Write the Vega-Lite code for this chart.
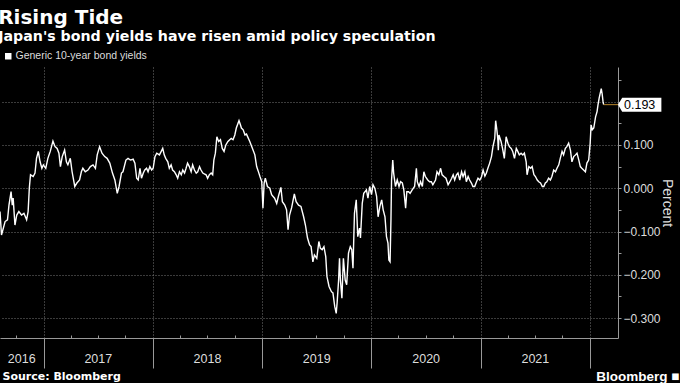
{
"$schema": "https://vega.github.io/schema/vega-lite/v6.json",
"width": 618, "height": 271,
"autosize": {"type": "none"},
"padding": {"left": 0, "top": 67, "right": 62, "bottom": 45},
"background": "#000000",
"config": {"view": {"stroke": null}, "font": "Liberation Sans"},
"title": {"text": "Rising Tide", "subtitle": "Japan's bond yields have risen amid policy speculation", "anchor": "start", "orient": "top", "offset": 7, "fontSize": 20, "fontWeight": "bold", "color": "#ffffff", "subtitleFontSize": 14.2, "subtitleFontWeight": "bold", "subtitleColor": "#ffffff", "subtitlePadding": 2, "font": "DejaVu Sans", "subtitleFont": "DejaVu Sans", "dx": 1},
"resolve": {"axis": {"x": "independent"}},
"datasets": {
"yields": [
{"date":"2016-08-08","value":-0.054},{"date":"2016-08-13","value":-0.108},{"date":"2016-08-25","value":-0.077},{"date":"2016-09-02","value":-0.073},{"date":"2016-09-07","value":-0.039},{"date":"2016-09-14","value":-0.008},{"date":"2016-09-18","value":-0.039},{"date":"2016-09-21","value":-0.023},{"date":"2016-09-27","value":-0.085},{"date":"2016-10-03","value":-0.062},{"date":"2016-10-10","value":-0.054},{"date":"2016-10-19","value":-0.062},{"date":"2016-10-27","value":-0.058},{"date":"2016-11-05","value":-0.073},{"date":"2016-11-10","value":-0.054},{"date":"2016-11-14","value":0.000},{"date":"2016-11-18","value":0.031},{"date":"2016-11-27","value":0.027},{"date":"2016-12-03","value":0.035},{"date":"2016-12-08","value":0.069},{"date":"2016-12-14","value":0.085},{"date":"2016-12-20","value":0.061},{"date":"2016-12-26","value":0.046},{"date":"2016-12-31","value":0.054},
{"date":"2017-01-08","value":0.046},{"date":"2017-01-15","value":0.069},{"date":"2017-01-23","value":0.085},{"date":"2017-02-01","value":0.109},{"date":"2017-02-08","value":0.096},{"date":"2017-02-15","value":0.092},{"date":"2017-02-21","value":0.081},{"date":"2017-02-26","value":0.050},{"date":"2017-03-04","value":0.073},{"date":"2017-03-12","value":0.088},{"date":"2017-03-18","value":0.061},{"date":"2017-03-23","value":0.054},{"date":"2017-03-31","value":0.069},{"date":"2017-04-06","value":0.038},{"date":"2017-04-15","value":0.004},{"date":"2017-04-22","value":0.012},{"date":"2017-05-01","value":0.019},{"date":"2017-05-07","value":0.038},{"date":"2017-05-12","value":0.046},{"date":"2017-05-20","value":0.038},{"date":"2017-05-29","value":0.042},{"date":"2017-06-06","value":0.050},{"date":"2017-06-15","value":0.054},{"date":"2017-06-23","value":0.046},{"date":"2017-06-29","value":0.077},{"date":"2017-07-07","value":0.096},{"date":"2017-07-15","value":0.081},{"date":"2017-07-24","value":0.073},{"date":"2017-08-01","value":0.069},{"date":"2017-08-10","value":0.058},{"date":"2017-08-19","value":0.035},{"date":"2017-08-27","value":0.019},{"date":"2017-09-04","value":-0.012},{"date":"2017-09-10","value":0.004},{"date":"2017-09-18","value":0.035},{"date":"2017-09-23","value":0.038},{"date":"2017-10-03","value":0.065},{"date":"2017-10-10","value":0.069},{"date":"2017-10-18","value":0.065},{"date":"2017-10-27","value":0.067},{"date":"2017-11-02","value":0.058},{"date":"2017-11-08","value":0.023},{"date":"2017-11-13","value":0.019},{"date":"2017-11-19","value":0.046},{"date":"2017-11-24","value":0.023},{"date":"2017-11-30","value":0.035},{"date":"2017-12-05","value":0.042},{"date":"2017-12-11","value":0.046},{"date":"2017-12-16","value":0.038},{"date":"2017-12-22","value":0.050},{"date":"2017-12-28","value":0.042},
{"date":"2018-01-02","value":0.046},{"date":"2018-01-08","value":0.073},{"date":"2018-01-14","value":0.081},{"date":"2018-01-23","value":0.077},{"date":"2018-01-29","value":0.085},{"date":"2018-02-03","value":0.092},{"date":"2018-02-08","value":0.077},{"date":"2018-02-13","value":0.069},{"date":"2018-02-20","value":0.061},{"date":"2018-02-25","value":0.046},{"date":"2018-03-03","value":0.054},{"date":"2018-03-08","value":0.042},{"date":"2018-03-14","value":0.038},{"date":"2018-03-20","value":0.031},{"date":"2018-03-25","value":0.023},{"date":"2018-03-31","value":0.038},{"date":"2018-04-06","value":0.031},{"date":"2018-04-11","value":0.042},{"date":"2018-04-17","value":0.035},{"date":"2018-04-22","value":0.046},{"date":"2018-04-27","value":0.058},{"date":"2018-05-03","value":0.050},{"date":"2018-05-09","value":0.038},{"date":"2018-05-14","value":0.054},{"date":"2018-05-20","value":0.042},{"date":"2018-05-26","value":0.035},{"date":"2018-05-31","value":0.038},{"date":"2018-06-06","value":0.050},{"date":"2018-06-11","value":0.042},{"date":"2018-06-17","value":0.035},{"date":"2018-06-22","value":0.033},{"date":"2018-06-28","value":0.031},{"date":"2018-07-03","value":0.023},{"date":"2018-07-09","value":0.031},{"date":"2018-07-15","value":0.035},{"date":"2018-07-20","value":0.031},{"date":"2018-07-24","value":0.065},{"date":"2018-07-29","value":0.081},{"date":"2018-08-03","value":0.119},{"date":"2018-08-09","value":0.108},{"date":"2018-08-15","value":0.112},{"date":"2018-08-21","value":0.092},{"date":"2018-08-27","value":0.085},{"date":"2018-09-02","value":0.100},{"date":"2018-09-09","value":0.108},{"date":"2018-09-15","value":0.112},{"date":"2018-09-20","value":0.115},{"date":"2018-09-26","value":0.112},{"date":"2018-10-02","value":0.123},{"date":"2018-10-07","value":0.139},{"date":"2018-10-16","value":0.156},{"date":"2018-10-21","value":0.146},{"date":"2018-10-24","value":0.139},{"date":"2018-10-30","value":0.135},{"date":"2018-11-05","value":0.123},{"date":"2018-11-10","value":0.125},{"date":"2018-11-21","value":0.108},{"date":"2018-11-30","value":0.092},{"date":"2018-12-08","value":0.077},{"date":"2018-12-14","value":0.050},{"date":"2018-12-19","value":0.040},{"date":"2018-12-25","value":0.027},{"date":"2018-12-31","value":0.015},
{"date":"2019-01-04","value":-0.046},{"date":"2019-01-08","value":0.012},{"date":"2019-01-12","value":0.023},{"date":"2019-01-19","value":0.004},{"date":"2019-01-27","value":0.000},{"date":"2019-02-02","value":-0.015},{"date":"2019-02-07","value":-0.019},{"date":"2019-02-12","value":-0.023},{"date":"2019-02-19","value":-0.035},{"date":"2019-02-25","value":-0.018},{"date":"2019-03-05","value":0.002},{"date":"2019-03-10","value":-0.031},{"date":"2019-03-18","value":-0.039},{"date":"2019-03-24","value":-0.050},{"date":"2019-03-29","value":-0.096},{"date":"2019-04-03","value":-0.062},{"date":"2019-04-10","value":-0.045},{"date":"2019-04-19","value":-0.013},{"date":"2019-04-25","value":-0.031},{"date":"2019-05-03","value":-0.039},{"date":"2019-05-11","value":-0.042},{"date":"2019-05-20","value":-0.066},{"date":"2019-05-26","value":-0.085},{"date":"2019-06-02","value":-0.115},{"date":"2019-06-09","value":-0.131},{"date":"2019-06-14","value":-0.135},{"date":"2019-06-20","value":-0.170},{"date":"2019-06-25","value":-0.154},{"date":"2019-07-03","value":-0.162},{"date":"2019-07-10","value":-0.123},{"date":"2019-07-15","value":-0.139},{"date":"2019-07-21","value":-0.142},{"date":"2019-07-27","value":-0.135},{"date":"2019-08-02","value":-0.158},{"date":"2019-08-06","value":-0.204},{"date":"2019-08-13","value":-0.227},{"date":"2019-08-21","value":-0.239},{"date":"2019-08-26","value":-0.242},{"date":"2019-09-01","value":-0.273},{"date":"2019-09-06","value":-0.289},{"date":"2019-09-09","value":-0.265},{"date":"2019-09-14","value":-0.212},{"date":"2019-09-17","value":-0.162},{"date":"2019-09-20","value":-0.212},{"date":"2019-09-25","value":-0.254},{"date":"2019-09-30","value":-0.162},{"date":"2019-10-06","value":-0.212},{"date":"2019-10-11","value":-0.223},{"date":"2019-10-17","value":-0.150},{"date":"2019-10-23","value":-0.135},{"date":"2019-10-28","value":-0.142},{"date":"2019-11-01","value":-0.185},{"date":"2019-11-06","value":-0.058},{"date":"2019-11-12","value":-0.027},{"date":"2019-11-17","value":-0.112},{"date":"2019-11-23","value":-0.092},{"date":"2019-11-26","value":-0.115},{"date":"2019-12-02","value":-0.035},{"date":"2019-12-07","value":-0.012},{"date":"2019-12-16","value":-0.004},{"date":"2019-12-21","value":-0.023},{"date":"2019-12-27","value":0.004},
{"date":"2020-01-02","value":-0.015},{"date":"2020-01-07","value":0.008},{"date":"2020-01-13","value":0.000},{"date":"2020-01-19","value":-0.019},{"date":"2020-01-24","value":-0.066},{"date":"2020-01-30","value":-0.042},{"date":"2020-02-05","value":-0.027},{"date":"2020-02-10","value":-0.050},{"date":"2020-02-16","value":-0.066},{"date":"2020-02-21","value":-0.112},{"date":"2020-02-26","value":-0.127},{"date":"2020-02-29","value":-0.166},{"date":"2020-03-04","value":-0.170},{"date":"2020-03-07","value":-0.073},{"date":"2020-03-09","value":0.019},{"date":"2020-03-13","value":0.065},{"date":"2020-03-16","value":0.035},{"date":"2020-03-22","value":0.004},{"date":"2020-03-28","value":0.019},{"date":"2020-04-03","value":0.004},{"date":"2020-04-08","value":0.015},{"date":"2020-04-14","value":0.012},{"date":"2020-04-19","value":-0.004},{"date":"2020-04-25","value":-0.046},{"date":"2020-04-29","value":-0.008},{"date":"2020-05-05","value":-0.008},{"date":"2020-05-10","value":-0.012},{"date":"2020-05-17","value":-0.004},{"date":"2020-05-25","value":0.004},{"date":"2020-05-31","value":0.046},{"date":"2020-06-03","value":0.015},{"date":"2020-06-09","value":0.004},{"date":"2020-06-14","value":0.015},{"date":"2020-06-20","value":0.004},{"date":"2020-06-25","value":0.038},{"date":"2020-06-30","value":0.027},{"date":"2020-07-08","value":0.019},{"date":"2020-07-14","value":0.015},{"date":"2020-07-20","value":0.015},{"date":"2020-07-25","value":0.008},{"date":"2020-08-03","value":0.019},{"date":"2020-08-08","value":0.038},{"date":"2020-08-14","value":0.031},{"date":"2020-08-20","value":0.046},{"date":"2020-08-25","value":0.031},{"date":"2020-08-31","value":0.027},{"date":"2020-09-07","value":0.023},{"date":"2020-09-14","value":0.008},{"date":"2020-09-20","value":0.015},{"date":"2020-09-26","value":0.023},{"date":"2020-10-01","value":0.031},{"date":"2020-10-06","value":0.019},{"date":"2020-10-12","value":0.031},{"date":"2020-10-17","value":0.035},{"date":"2020-10-23","value":0.019},{"date":"2020-10-29","value":0.038},{"date":"2020-11-03","value":0.027},{"date":"2020-11-09","value":0.038},{"date":"2020-11-14","value":0.015},{"date":"2020-11-20","value":0.027},{"date":"2020-11-25","value":0.019},{"date":"2020-12-01","value":0.012},{"date":"2020-12-06","value":0.004},{"date":"2020-12-12","value":0.004},{"date":"2020-12-18","value":0.015},{"date":"2020-12-23","value":0.023},{"date":"2020-12-29","value":0.019},
{"date":"2021-01-04","value":0.027},{"date":"2021-01-09","value":0.042},{"date":"2021-01-15","value":0.028},{"date":"2021-01-20","value":0.035},{"date":"2021-01-25","value":0.046},{"date":"2021-01-31","value":0.058},{"date":"2021-02-06","value":0.073},{"date":"2021-02-11","value":0.096},{"date":"2021-02-17","value":0.115},{"date":"2021-02-20","value":0.156},{"date":"2021-02-24","value":0.135},{"date":"2021-02-27","value":0.115},{"date":"2021-03-01","value":0.088},{"date":"2021-03-03","value":0.123},{"date":"2021-03-10","value":0.108},{"date":"2021-03-15","value":0.092},{"date":"2021-03-21","value":0.069},{"date":"2021-03-27","value":0.119},{"date":"2021-04-02","value":0.104},{"date":"2021-04-07","value":0.096},{"date":"2021-04-13","value":0.092},{"date":"2021-04-18","value":0.085},{"date":"2021-04-24","value":0.069},{"date":"2021-04-30","value":0.092},{"date":"2021-05-05","value":0.085},{"date":"2021-05-10","value":0.077},{"date":"2021-05-16","value":0.081},{"date":"2021-05-22","value":0.077},{"date":"2021-05-27","value":0.081},{"date":"2021-06-02","value":0.061},{"date":"2021-06-05","value":0.031},{"date":"2021-06-11","value":0.050},{"date":"2021-06-17","value":0.046},{"date":"2021-06-22","value":0.050},{"date":"2021-06-28","value":0.031},{"date":"2021-07-03","value":0.027},{"date":"2021-07-09","value":0.019},{"date":"2021-07-14","value":0.015},{"date":"2021-07-20","value":0.012},{"date":"2021-07-26","value":0.004},{"date":"2021-07-31","value":0.004},{"date":"2021-08-05","value":0.012},{"date":"2021-08-10","value":0.015},{"date":"2021-08-16","value":0.023},{"date":"2021-08-22","value":0.019},{"date":"2021-08-27","value":0.027},{"date":"2021-09-02","value":0.042},{"date":"2021-09-08","value":0.038},{"date":"2021-09-13","value":0.046},{"date":"2021-09-19","value":0.054},{"date":"2021-09-24","value":0.069},{"date":"2021-09-30","value":0.085},{"date":"2021-10-05","value":0.077},{"date":"2021-10-11","value":0.092},{"date":"2021-10-16","value":0.096},{"date":"2021-10-22","value":0.104},{"date":"2021-10-28","value":0.088},{"date":"2021-11-02","value":0.061},{"date":"2021-11-08","value":0.073},{"date":"2021-11-14","value":0.077},{"date":"2021-11-19","value":0.081},{"date":"2021-11-25","value":0.065},{"date":"2021-11-30","value":0.050},{"date":"2021-12-05","value":0.046},{"date":"2021-12-11","value":0.042},{"date":"2021-12-17","value":0.038},{"date":"2021-12-22","value":0.058},{"date":"2021-12-28","value":0.065},
{"date":"2022-01-02","value":0.104},{"date":"2022-01-05","value":0.146},{"date":"2022-01-09","value":0.135},{"date":"2022-01-14","value":0.139},{"date":"2022-01-20","value":0.165},{"date":"2022-01-25","value":0.177},{"date":"2022-01-28","value":0.192},{"date":"2022-02-01","value":0.208},{"date":"2022-02-08","value":0.230},{"date":"2022-02-11","value":0.218},{"date":"2022-02-14","value":0.200},{"date":"2022-02-16","value":0.193}
],
"last": [{"date":"2022-02-16","value":0.193}]
},
"encoding": {
"y": {"field": "value", "type": "quantitative",
 "scale": {"domain": [-0.346, 0.28], "nice": false, "zero": false},
 "axis": {
  "orient": "right",
  "values": [-0.3,-0.25,-0.2,-0.15,-0.1,-0.05,0,0.05,0.1,0.15,0.2,0.25],
  "labelExpr": "datum.value > 0.15 || abs(datum.value*10 - round(datum.value*10)) > 0.01 ? '' : format(datum.value, '.3f')",
  "labelFontSize": 12, "labelColor": "#dddddd", "labelPadding": 2, "labelBaseline": "middle",
  "tickSize": 3, "tickColor": "#999999", "domainColor": "#999999",
  "grid": true, "gridColor": "#777777", "gridDash": [1, 2], "gridWidth": 1,
  "gridOpacity": {"condition": {"test": "abs(datum.value*10 - round(datum.value*10)) > 0.01", "value": 0}, "value": 1},
  "title": "Percent", "titleFontSize": 14, "titleFontWeight": "normal", "titleColor": "#dddddd", "titlePadding": -1, "titleAngle": 90
 }}
},
"layer": [
{
"data": {"name": "yields"},
"mark": {"type": "line", "color": "#ffffff", "strokeWidth": 1.4},
"encoding": {
"x": {"field": "date", "type": "temporal",
 "scale": {"domain": [{"year":2016,"month":8,"date":8},{"year":2022,"month":4,"date":5}]},
 "axis": {
  "values": [{"year":2016,"month":10,"date":1},{"year":2016,"month":10,"date":18},
   {"year":2017,"month":1,"date":1},{"year":2017,"month":4,"date":1},{"year":2017,"month":7,"date":1},{"year":2017,"month":10,"date":1},
   {"year":2018,"month":1,"date":1},{"year":2018,"month":4,"date":1},{"year":2018,"month":7,"date":1},{"year":2018,"month":10,"date":1},
   {"year":2019,"month":1,"date":1},{"year":2019,"month":4,"date":1},{"year":2019,"month":7,"date":1},{"year":2019,"month":10,"date":1},
   {"year":2020,"month":1,"date":1},{"year":2020,"month":4,"date":1},{"year":2020,"month":7,"date":1},{"year":2020,"month":10,"date":1},
   {"year":2021,"month":1,"date":1},{"year":2021,"month":4,"date":1},{"year":2021,"month":7,"date":1},{"year":2021,"month":10,"date":1},
   {"year":2022,"month":1,"date":1}],
  "labelExpr": "(month(datum.value)==6 && date(datum.value)==1) || date(datum.value)==18 ? timeFormat(datum.value, '%Y') : ''",
  "labelFontSize": 12.5, "labelColor": "#dddddd", "labelPadding": 17, "labelAlign": "center", "labelBaseline": "top", "labelFlush": false, "labelOverlap": false, "labelBound": false,
  "domainColor": "#999999", "domainWidth": 1,
  "tickColor": "#999999", "tickWidth": 1,
  "tickSize": {"condition": {"test": "month(datum.value)==0 && date(datum.value)==1", "value": 30}, "value": -3},
  "tickOpacity": {"condition": {"test": "date(datum.value)==18", "value": 0}, "value": 1},
  "grid": true, "gridColor": "#777777", "gridDash": [1, 2], "gridWidth": 1,
  "gridOpacity": {"condition": {"test": "month(datum.value)==0 && date(datum.value)==1", "value": 1}, "value": 0},
  "title": "Source: Bloomberg", "titleX": 2, "titleY": 41, "titleAlign": "left", "titleAnchor": "start", "titleBaseline": "alphabetic", "titleFontSize": 11, "titleFontWeight": "bold", "titleColor": "#ffffff", "titleFont": "DejaVu Sans"
 }},
"color": {"datum": "Generic 10-year bond yields", "type": "nominal", "scale": {"range": ["#ffffff"]},
 "legend": {"orient": "none", "legendX": 3, "legendY": -16, "title": null, "symbolType": "square", "symbolSize": 42, "symbolFillColor": "#ffffff", "symbolStrokeColor": "#ffffff", "symbolStrokeWidth": 0, "labelFontSize": 10.5, "labelColor": "#dddddd", "labelOffset": 2, "padding": 0}}
}
},
{
"data": {"name": "last"},
"mark": {"type": "rule", "color": "#b8862b", "strokeWidth": 1},
"encoding": {
"x": {"field": "date", "type": "temporal", "axis": null},
"x2": {"datum": {"year":2022,"month":4,"date":5}}
}
},
{
"data": {"name": "last"},
"mark": {"type": "point", "shape": "M0,0 L0.6,-1 L6.2,-1 L6.2,1 L0.6,1 Z", "size": 196, "filled": true, "color": "#ffffff", "opacity": 1, "strokeWidth": 0},
"encoding": {
"x": {"datum": {"year":2022,"month":4,"date":5}, "type": "temporal",
 "axis": {"orient": "top", "title": "Bloomberg \u25a0", "titleX": 679, "titleY": 313, "titleAlign": "right", "titleAnchor": "end", "titleBaseline": "alphabetic", "titleFontSize": 13.5, "titleFontWeight": "bold", "titleColor": "#ffffff", "domain": false, "ticks": false, "labels": false, "grid": false}}
}
},
{
"data": {"name": "last"},
"mark": {"type": "text", "align": "left", "baseline": "middle", "dx": 6, "fontSize": 12.5, "color": "#000000"},
"encoding": {
"x": {"datum": {"year":2022,"month":4,"date":5}, "type": "temporal", "axis": null},
"text": {"field": "value", "type": "quantitative", "format": ".3f"}
}
}
]
}
